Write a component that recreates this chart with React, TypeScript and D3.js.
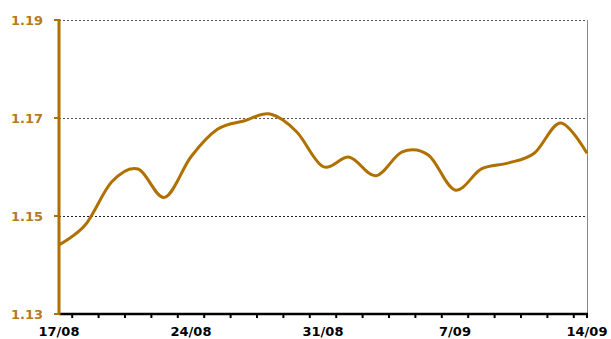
import React from "react";
import * as d3 from "d3";

// Business-day EUR/USD-style closing values, 17/08 to 14/09
const dates = [
  "17/08", "18/08", "19/08", "20/08", "21/08",
  "24/08", "25/08", "26/08", "27/08", "28/08",
  "31/08", "1/09", "2/09", "3/09", "4/09",
  "7/09", "8/09", "9/09", "10/09", "11/09",
  "14/09",
];
const values = [
  1.1441, 1.1482, 1.157, 1.1596, 1.1538,
  1.1621, 1.1677, 1.1694, 1.1708, 1.1672,
  1.1601, 1.162, 1.1582, 1.1631, 1.1624,
  1.1553, 1.1596, 1.1608, 1.1628, 1.169,
  1.1628,
];
const yTicks = [1.13, 1.15, 1.17, 1.19];
const labelEvery = 5;

const W = 611;
const H = 339;
const left = 59;
const right = 587;
const top = 20;
const bottom = 314;

const lineColor = "#B07000";
const labelColor = "#B8781C";

export default function App() {
  const x = d3.scaleLinear().domain([0, dates.length - 1]).range([left, right]);
  const y = d3.scaleLinear().domain([1.13, 1.19]).range([bottom, top]);

  const path = d3
    .line<number>()
    .x((_, i) => x(i))
    .y((d) => y(d))
    .curve(d3.curveCardinal.tension(0))(values);

  // minor ticks sit between categories, plus one at the right end
  const minorTicks = d3.range(dates.length - 1).map((i) => x(i + 0.5));
  minorTicks.push(x(dates.length - 1));

  return (
    <svg
      width={W}
      height={H}
      style={{ position: "absolute", left: 0, top: 0, fontFamily: "DejaVu Sans, Verdana, sans-serif" }}
    >
      <rect width={W} height={H} fill="#fff" />
      {/* gridlines */}
      {yTicks.slice(1).map((t) => (
        <line
          key={t}
          x1={left}
          x2={right}
          y1={y(t) + 0.5}
          y2={y(t) + 0.5}
          stroke={t === 1.15 ? "#222" : "#555"}
          strokeWidth={1}
          strokeDasharray="2,2"
        />
      ))}
      {/* right border */}
      <line x1={right + 0.5} x2={right + 0.5} y1={top} y2={bottom} stroke="#888" strokeWidth={1} />
      {/* x axis */}
      <line x1={left} x2={right + 1} y1={bottom} y2={bottom} stroke="#000" strokeWidth={2.5} />
      {minorTicks.map((tx, i) => (
        <line key={i} x1={tx} x2={tx} y1={bottom} y2={bottom + 4} stroke="#000" strokeWidth={2} />
      ))}
      {dates.map((d, i) =>
        i % labelEvery === 0 ? (
          <text
            key={d}
            x={x(i)}
            y={336}
            textAnchor="middle"
            fontSize={13}
            fontWeight="bold"
            fill="#000"
          >
            {d}
          </text>
        ) : null
      )}
      {/* y axis */}
      <line x1={left} x2={left} y1={top - 1} y2={bottom + 1} stroke={lineColor} strokeWidth={3} />
      {yTicks.map((t) => (
        <g key={t}>
          <line x1={left - 5} x2={left} y1={y(t)} y2={y(t)} stroke={lineColor} strokeWidth={2} />
          <text
            x={43}
            y={y(t) + 5}
            textAnchor="end"
            fontSize={13}
            fontWeight="bold"
            fill={labelColor}
          >
            {t.toFixed(2)}
          </text>
        </g>
      ))}
      {/* series */}
      <path d={path ?? ""} fill="none" stroke={lineColor} strokeWidth={3} strokeLinejoin="round" />
    </svg>
  );
}
